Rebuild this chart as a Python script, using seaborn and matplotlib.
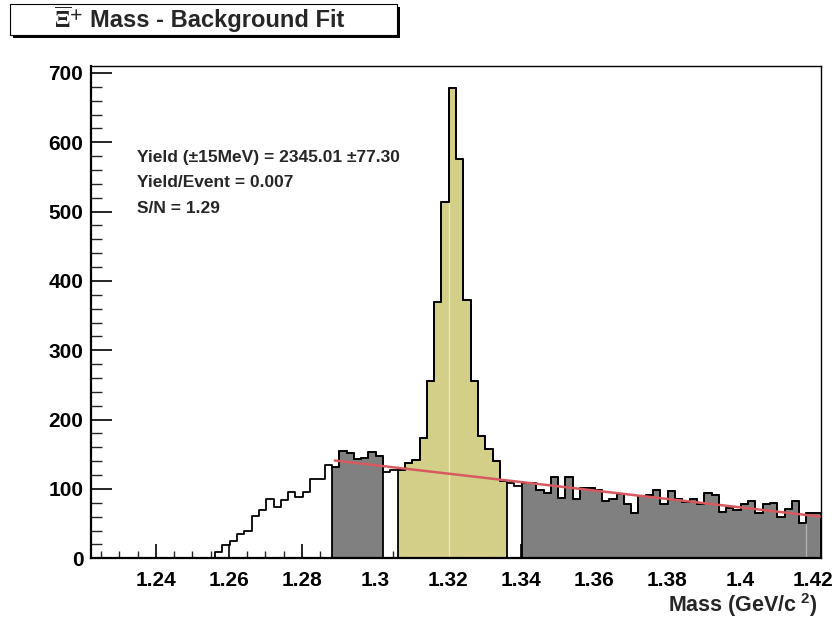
import numpy as np
import pandas as pd
import matplotlib
matplotlib.use('Agg')
import matplotlib.pyplot as plt
from matplotlib.patches import Rectangle
from matplotlib.ticker import MultipleLocator, FixedLocator
import seaborn as sns

# Xi mass histogram: 100 bins of 2 MeV starting at 1.2222 GeV
mass_lo = 1.2222
bin_width = 0.002
counts = [0, 0, 0, 0, 0, 0, 0, 0, 0, 0,
          0, 0, 0, 0, 0, 0, 0, 9, 19, 25,
          35, 40, 61, 70, 86, 74, 84, 96, 89, 96,
          115, 114, 134, 131, 155, 152, 143, 144, 153, 147,
          125, 128, 127, 138, 142, 174, 255, 370, 514, 678,
          576, 373, 255, 177, 157, 140, 112, 108, 104, 109,
          109, 98, 94, 117, 87, 117, 86, 102, 101, 99,
          83, 85, 93, 78, 65, 90, 92, 99, 79, 97,
          85, 81, 86, 79, 94, 92, 67, 72, 69, 78,
          82, 65, 78, 80, 60, 71, 82, 51, 66, 66]

# bin index ranges (start, stop) of the filled regions
sideband_lo_bins = (33, 40)
signal_bins = (42, 57)
sideband_hi_bins = (59, 100)

# background fit line (end points)
fit_mass = [1.289, 1.4222]
fit_value = [141, 60]

x_ticks = [1.24, 1.26, 1.28, 1.30, 1.32, 1.34, 1.36, 1.38, 1.40, 1.42]
x_tick_labels = ['1.24', '1.26', '1.28', '1.3', '1.32', '1.34', '1.36', '1.38', '1.4', '1.42']
y_ticks = [0, 100, 200, 300, 400, 500, 600, 700]
stats_lines = ['Yield (\u00b115MeV) = 2345.01 \u00b177.30', 'Yield/Event = 0.007', 'S/N = 1.29']

edges = mass_lo + bin_width * np.arange(len(counts) + 1)
centers = edges[:-1] + bin_width / 2
df = pd.DataFrame({'mass': centers, 'count': counts})

sns.set_style('white')
plt.rcParams['font.family'] = ['Liberation Sans', 'DejaVu Sans']
plt.rcParams['font.weight'] = 'bold'
plt.rcParams['mathtext.fontset'] = 'custom'
plt.rcParams['mathtext.rm'] = 'Liberation Sans:bold'
plt.rcParams['mathtext.it'] = 'Liberation Sans:bold'
plt.rcParams['mathtext.bf'] = 'Liberation Sans:bold'

W, H = 835, 623
fig = plt.figure(figsize=(W / 100, H / 100), dpi=100)
ax = fig.add_axes([91 / W, 1 - 558.3 / H, 730 / W, 492.3 / H])

gray = '#808080'
olive = '#d3cf88'
for (a, b), color in [(sideband_lo_bins, gray), (signal_bins, olive), (sideband_hi_bins, gray)]:
    part = df.iloc[a:b]
    sns.histplot(data=part, x='mass', weights='count', bins=list(edges[a:b + 1]),
                 element='step', fill=True, color=color, alpha=1,
                 edgecolor='black', linewidth=1.3, ax=ax)

# faint fill seams like in the original
for i, c in [(49, '#ebe8c4'), (98, '#b4b4b4')]:
    ax.vlines(edges[i], 0, min(counts[i - 1], counts[i]), color=c, linewidth=0.9)

# full histogram outline
sns.histplot(data=df, x='mass', weights='count', bins=list(edges), element='step',
             fill=False, color='black', linewidth=1.3, ax=ax)

sns.lineplot(x=fit_mass, y=fit_value, color='#d65a60', linewidth=1.8, ax=ax)

ax.set_xlim(edges[0], edges[-1])
ax.set_ylim(0, 710)
ax.set_xlabel('')
ax.set_ylabel('')
ax.xaxis.set_major_locator(FixedLocator(x_ticks))
ax.set_xticklabels(x_tick_labels)
ax.xaxis.set_minor_locator(MultipleLocator(0.005))
ax.yaxis.set_major_locator(FixedLocator(y_ticks))
ax.yaxis.set_minor_locator(MultipleLocator(20))
ax.tick_params(axis='x', which='major', direction='in', length=10, width=1.2,
               bottom=True, top=False, pad=9, labelsize=15, colors='black')
ax.tick_params(axis='x', which='minor', direction='in', length=5, width=1.0,
               bottom=True, top=False)
ax.tick_params(axis='y', which='major', direction='in', length=15, width=1.2,
               left=True, right=False, pad=5.5, labelsize=15, colors='black')
ax.tick_params(axis='y', which='minor', direction='in', length=8, width=1.0,
               left=True, right=False)
for lab in ax.get_xticklabels() + ax.get_yticklabels():
    lab.set_fontweight('bold')
for side, lw in [('left', 1.6), ('bottom', 1.6), ('top', 1.0), ('right', 1.0)]:
    ax.spines[side].set_color('black')
    ax.spines[side].set_linewidth(lw)

for k, line in enumerate(stats_lines):
    ax.text(0.063, 0.815 - 0.052 * k, line, transform=ax.transAxes,
            fontsize=12.5, fontweight='bold', va='center', ha='left')

# title box with shadow
fig.patches.append(Rectangle((13 / W, 1 - 38 / H), 387 / W, 31 / H,
                             transform=fig.transFigure, facecolor='black',
                             edgecolor='none', zorder=1))
fig.patches.append(Rectangle((10 / W, 1 - 35 / H), 387 / W, 31 / H,
                             transform=fig.transFigure, facecolor='white',
                             edgecolor='black', linewidth=0.8, zorder=2))
fig.text(54 / W, 1 - 21 / H, r'$\overline{\Xi}^{+}$', math_fontfamily='stix',
         fontsize=17, va='center', ha='left', zorder=3)
fig.text(90 / W, 1 - 21 / H, 'Mass - Background Fit', fontsize=17,
         fontweight='bold', va='center', ha='left', zorder=3)

fig.text(818 / W, 1 - 611.7 / H, 'Mass (GeV/c$^{\\ 2}$)', fontsize=15.5,
         fontweight='bold', ha='right', va='baseline')

fig.savefig('out.png', dpi=100)
